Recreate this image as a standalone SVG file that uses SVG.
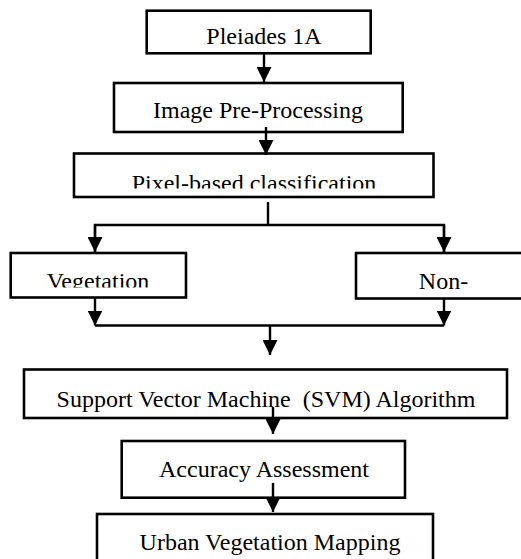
<svg xmlns="http://www.w3.org/2000/svg" width="521" height="559" viewBox="0 0 521 559">
<style>
.box{fill:#fff;stroke:#000;stroke-width:2.6}
.t{font-family:"Liberation Serif","Times New Roman",serif;font-size:24px;fill:#000;text-anchor:middle}
.c{fill:none;stroke:#000;stroke-width:2.4}
</style>
<defs>
<marker id="ah" markerWidth="15" markerHeight="15" viewBox="0 0 15 15" refX="15" refY="7.5" orient="auto" markerUnits="userSpaceOnUse">
<path d="M0,0 L15,7.5 L0,15 Z" fill="#000"/>
</marker>
<clipPath id="cp3"><rect x="74" y="153" width="360" height="35.5"/></clipPath>
<clipPath id="cpv"><rect x="10" y="253" width="177" height="34.5"/></clipPath>
</defs>
<rect width="521" height="559" fill="#fff"/>
<g id="n1"><rect class="box" x="146.7" y="10.7" width="224" height="42.6"/><text class="t" x="264" y="44">Pleiades 1A</text></g>
<g id="n2"><rect class="box" x="114" y="83" width="288.7" height="49"/><text class="t" x="258" y="118">Image Pre-Processing</text></g>
<g id="n3"><rect class="box" x="74" y="153.5" width="359.5" height="43.5"/><text class="t" x="254" y="191" clip-path="url(#cp3)">Pixel-based classification</text></g>
<g id="n4"><rect class="box" x="10.7" y="253" width="175.3" height="44.5"/><text class="t" x="98" y="288.5" clip-path="url(#cpv)">Vegetation</text></g>
<g id="n5"><rect class="box" x="356" y="253" width="175" height="45.5"/><text class="t" x="443.5" y="288.5">Non-</text></g>
<g id="n6"><rect class="box" x="24" y="369.5" width="483" height="48.5"/><text class="t" x="266" y="407" xml:space="preserve">Support Vector Machine  (SVM) Algorithm</text></g>
<g id="n7"><rect class="box" x="121.7" y="441" width="283.3" height="56.7"/><text class="t" x="264" y="476.5">Accuracy Assessment</text></g>
<g id="n8"><rect class="box" x="97" y="514" width="336" height="60"/><text class="t" x="270" y="550">Urban Vegetation Mapping</text></g>
<g id="connectors">
<line class="c" x1="264" y1="53" x2="264" y2="82" marker-end="url(#ah)"/>
<line class="c" x1="266" y1="127" x2="266" y2="155" marker-end="url(#ah)"/>
<polyline class="c" points="268,202 268,225"/>
<polyline class="c" points="95,252 95,225 444,225 444,252"/>
<line class="c" x1="95" y1="225" x2="95" y2="252" marker-end="url(#ah)"/>
<line class="c" x1="444" y1="225" x2="444" y2="252" marker-end="url(#ah)"/>
<line class="c" x1="95" y1="297.5" x2="95" y2="325.5" marker-end="url(#ah)"/>
<line class="c" x1="444" y1="298.5" x2="444" y2="325.5" marker-end="url(#ah)"/>
<polyline class="c" points="95,325.5 444,325.5"/>
<line class="c" x1="270" y1="325.5" x2="270" y2="355" marker-end="url(#ah)"/>
<line class="c" x1="273" y1="407" x2="273" y2="434" marker-end="url(#ah)"/>
<line class="c" x1="273" y1="483" x2="273" y2="512" marker-end="url(#ah)"/>
</g>
</svg>
